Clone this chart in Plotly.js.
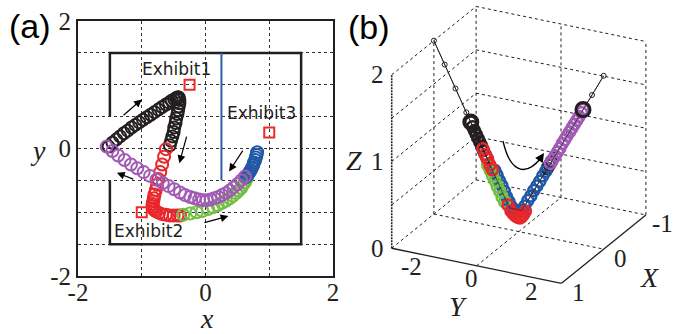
<!DOCTYPE html>
<html>
<head>
<meta charset="utf-8">
<script src="https://cdn.plot.ly/plotly-3.0.1.min.js"></script>
<style>
html,body{margin:0;padding:0;background:#fff;}
#chart{width:675px;height:334px;}
</style>
</head>
<body>
<div id="chart"></div>
<script>
// ---------- Panel (a): 2D trajectories ----------
const blackX = [-1.52,-1.46,-1.40,-1.34,-1.28,-1.22,-1.16,-1.10,-1.04,-0.98,-0.92,-0.86,-0.80,-0.74,-0.68,-0.62,-0.57,-0.53,-0.49,-0.46,-0.44,-0.43,-0.42,-0.41,-0.41,-0.42,-0.43,-0.44,-0.46,-0.47,-0.49,-0.50,-0.52,-0.54,-0.56];
const blackY = [0.03,0.09,0.14,0.19,0.24,0.28,0.33,0.37,0.41,0.45,0.49,0.53,0.57,0.61,0.65,0.69,0.72,0.75,0.77,0.79,0.80,0.80,0.80,0.76,0.71,0.66,0.60,0.54,0.47,0.40,0.33,0.26,0.19,0.12,0.05];
const redX = [-0.62,-0.65,-0.68,-0.71,-0.74,-0.76,-0.78,-0.80,-0.81,-0.82,-0.83,-0.83,-0.82,-0.80,-0.77,-0.73,-0.68,-0.62,-0.56,-0.50,-0.44,-0.40];
const redY = [-0.01,-0.13,-0.25,-0.37,-0.48,-0.57,-0.65,-0.72,-0.78,-0.83,-0.87,-0.91,-0.94,-0.97,-0.99,-1.01,-1.03,-1.04,-1.05,-1.05,-1.05,-1.05];
const greenX = [-0.35,-0.24,-0.14,-0.05,0.04,0.12,0.19,0.26,0.32,0.38,0.43,0.48,0.52,0.56,0.59,0.62,0.64,0.65];
const greenY = [-1.04,-1.02,-1.00,-0.98,-0.95,-0.92,-0.89,-0.85,-0.82,-0.78,-0.74,-0.70,-0.66,-0.62,-0.57,-0.53,-0.48,-0.44];
const blueX = [0.81,0.80,0.79,0.78,0.76,0.75,0.73,0.71,0.69,0.67,0.65,0.63];
const blueY = [-0.06,-0.10,-0.14,-0.18,-0.22,-0.26,-0.30,-0.34,-0.37,-0.40,-0.43,-0.45];
const purpleX = [0.62,0.56,0.50,0.44,0.38,0.32,0.26,0.20,0.14,0.08,0.02,-0.04,-0.10,-0.17,-0.24,-0.32,-0.40,-0.49,-0.58,-0.67,-0.77,-0.87,-0.97,-1.07,-1.17,-1.27,-1.37,-1.46,-1.55];
const purpleY = [-0.44,-0.50,-0.56,-0.61,-0.66,-0.70,-0.73,-0.76,-0.78,-0.80,-0.81,-0.81,-0.80,-0.78,-0.76,-0.73,-0.69,-0.64,-0.59,-0.54,-0.49,-0.43,-0.37,-0.31,-0.25,-0.18,-0.11,-0.04,0.03];

const wallX = [-1.5,-1.5,1.5,1.5,-1.5,-1.5];
const wallY = [0.5,1.5,1.5,-1.5,-1.5,-0.5];
const partitionX = [0.25,0.25];
const partitionY = [1.5,-0.5];
const exhibitX = [-0.25,-1,1];
const exhibitY = [1,-1,0.25];
const exhibitNames = ['Exhibit1','Exhibit2','Exhibit3'];
const exhibitLabelX = [-0.45,-0.89,0.88];
const exhibitLabelY = [1.24,-1.29,0.56];

// arrows in panel (a): [tailX, tailY, headX, headY]
const arrowsA = [
  [-1.31,0.50,-1.00,0.77],
  [-0.29,0.21,-0.41,-0.23],
  [0.60,-0.01,0.37,-0.36],
  [-0.04,-1.17,0.36,-1.06],
  [-1.11,-0.49,-1.39,-0.38]
];

const axTickVals = [-2,-1,0,1,2];
const axTickText = ['-2','','0','','2'];
const ayTickVals = [-2,-1.5,-1,-0.5,0,0.5,1,1.5,2];
const ayTickText = ['-2','','','','0','','','','2'];

// ---------- Panel (b): 3D embedding (X, Y, Z) ----------
const vlineY = [-2.83,-2.47,-2.11,-1.75,-1.39,-1.03,-0.67,-0.31,0.10,0.49,0.88,1.27,1.66,2.05,2.44,2.83];
const vlineZ = [2.00,1.75,1.50,1.25,1.00,0.75,0.50,0.25,0.25,0.50,0.75,1.00,1.25,1.50,1.75,2.00];
const vlineX = [0,0,0,0,0,0,0,0,0,0,0,0,0,0,0,0];

const b3BlackY = [-1.60,-1.54,-1.48,-1.42,-1.36,-1.30,-1.24,-1.18,-1.12,-1.06,0.95,1.02,1.09];
const b3BlackZ = [1.15,1.10,1.06,1.02,0.98,0.94,0.90,0.85,0.81,0.77,0.80,0.84,0.89];
const b3BlackX = [0,0,0,0,0,0,0,0,0,0,0,0,0];
const b3RedY = [-1.20,-1.12,-1.04,-0.96,-0.88,-0.36,-0.26,-0.18,-0.10,-0.02,0.04,0.10,0.16,0.22];
const b3RedZ = [0.87,0.81,0.76,0.70,0.65,0.28,0.22,0.19,0.17,0.16,0.16,0.18,0.21,0.25];
const b3RedX = [0,0,0,0,0,0,0,0,0,0,0,0,0,0];
const b3GreenY = [-0.98,-0.90,-0.82,-0.74,-0.66,-0.58,-0.50,-0.42];
const b3GreenZ = [0.71,0.66,0.60,0.55,0.49,0.44,0.38,0.33];
const b3GreenX = [0.04,0.04,0.04,0.04,0.04,0.04,0.04,0.04];
const b3BlueY = [-0.86,-0.78,-0.70,-0.62,-0.54,-0.46,-0.38,-0.30,-0.20,-0.10,0.00,0.10,0.20,0.30,0.40,0.50,0.60,0.70,0.80,0.90];
const b3BlueZ = [0.63,0.58,0.52,0.47,0.41,0.35,0.30,0.25,0.24,0.24,0.24,0.25,0.31,0.38,0.44,0.51,0.57,0.63,0.70,0.76];
const b3BlueX = [-0.04,-0.04,-0.04,-0.04,-0.04,-0.04,-0.04,-0.04,0,0,0,0,0,0,0,0,0,0,0,0];
const b3PurpleY = [1.05,1.13,1.21,1.29,1.37,1.45,1.53,1.61,1.69,1.77,1.85,1.93,2.01,2.09,2.14];
const b3PurpleZ = [0.86,0.91,0.96,1.01,1.06,1.12,1.17,1.22,1.27,1.32,1.37,1.42,1.47,1.52,1.56];
const b3PurpleX = [0,0,0,0,0,0,0,0,0,0,0,0,0,0,0];

const limX = [-1,1], limY = [-2.83,2.83], limZ = [0,2];
const bXTicks = [-1,0,1], bXTickText = ['-1','0','1'];
const bYTicks = [-2,0,2], bYTickText = ['-2','0','2'];
const bZTicks = [0,1,2], bZTickText = ['0','1','2'];
const bZGrid = [0.5,1,1.5];

// orthographic view (MATLAB-like camera): screen offset per unit of X, Y, Z
const view = {u:[-42.2,30.0,0.0], v:[-34.2,-6.2,86.7]};
function proj(X,Y,Z){return [view.u[0]*X+view.u[1]*Y+view.u[2]*Z, view.v[0]*X+view.v[1]*Y+view.v[2]*Z];}
function projArrays(X,Y,Z){const u=[],v=[];for(let i=0;i<X.length;i++){const p=proj(X[i],Y[i],Z[i]);u.push(p[0]);v.push(p[1]);}return {u:u,v:v};}
function segTrace(segs,style){const u=[],v=[];segs.forEach(s=>{const a=proj(...s[0]),b=proj(...s[1]);u.push(a[0],b[0],null);v.push(a[1],b[1],null);});return Object.assign({x:u,y:v,mode:'lines',xaxis:'x2',yaxis:'y2',hoverinfo:'skip'},style);}

const colBlack = '#231f20', colRed = '#e8262b', colGreen = '#72bf44', colBlue = '#2158a6', colPurple = '#a05cb4';

const traces = [];
traces.push({x: wallX, y: wallY, mode:'lines', line:{color:'#231f20', width:2.5}, xaxis:'x', yaxis:'y', hoverinfo:'skip'});
traces.push({x: partitionX, y: partitionY, mode:'lines', line:{color:'#2a5ea8', width:2}, xaxis:'x', yaxis:'y'});
function traj(x,y,c,sz,w){return {x:x,y:y,mode:'markers',marker:{symbol:'circle-open',size:sz,color:c,line:{color:c,width:w}},xaxis:'x',yaxis:'y'};}
traces.push(traj(blackX,blackY,colBlack,12,2));
traces.push(traj(redX,redY,colRed,12,2));
traces.push(traj(greenX,greenY,colGreen,12,2));
traces.push(traj(blueX,blueY,colBlue,12,2));
traces.push(traj(purpleX,purpleY,colPurple,12,2));
traces.push({x: exhibitX, y: exhibitY, mode:'markers', marker:{symbol:'square-open', size:10, color:'#ee2a24', line:{color:'#ee2a24',width:2}}, xaxis:'x', yaxis:'y'});

// panel (b) box and grid
const [x0,x1] = limX, [y0,y1] = limY, [z0,z1] = limZ;
const dashedSegs = [
  [[x0,y0,z0],[x0,y0,z1]], [[x0,y1,z0],[x0,y1,z1]],
  [[x1,y0,z1],[x0,y0,z1]], [[x0,y0,z1],[x0,y1,z1]],
  [[x1,y0,z0],[x0,y0,z0]], [[x0,y0,z0],[x0,y1,z0]]
];
bZGrid.forEach(z=>{dashedSegs.push([[x1,y0,z],[x0,y0,z]]); dashedSegs.push([[x0,y0,z],[x0,y1,z]]);});
dashedSegs.push([[0,y0,z0],[0,y0,z1]]);
dashedSegs.push([[x0,0,z0],[x0,0,z1]]);
dashedSegs.push([[x1,0,z0],[x0,0,z0]]);
dashedSegs.push([[0,y0,z0],[0,y1,z0]]);
traces.push(segTrace(dashedSegs,{line:{color:'#231f20',width:1,dash:'3px,3px'}}));
traces.push(segTrace([[[x1,y0,z0],[x1,y1,z0]],[[x1,y1,z0],[x0,y1,z0]]],{line:{color:'#231f20',width:1.3}}));
traces.push(segTrace([[[x1,y0,z0],[x1,y0,z1]]],{line:{color:'#231f20',width:1.6,dash:'2px,1px'}}));

function t3(X,Y,Z,c,sz,w){const p=projArrays(X,Y,Z);return {x:p.u,y:p.v,mode:'markers',marker:{symbol:'circle-open',size:sz,color:c,line:{color:c,width:w}},xaxis:'x2',yaxis:'y2',hoverinfo:'skip'};}
const vl = projArrays(vlineX,vlineY,vlineZ);
traces.push({x:vl.u, y:vl.v, mode:'lines+markers', line:{color:'#231f20', width:1}, marker:{symbol:'circle-open', size:5, color:'#231f20', line:{width:1}}, xaxis:'x2', yaxis:'y2'});
traces.push(t3(b3BlackX,b3BlackY,b3BlackZ,colBlack,11,2.5));
traces.push(t3(b3BlueX,b3BlueY,b3BlueZ,colBlue,11,2.5));
traces.push(t3(b3GreenX,b3GreenY,b3GreenZ,colGreen,11,2.5));
traces.push(t3(b3RedX,b3RedY,b3RedZ,colRed,11,2.5));
traces.push(t3(b3PurpleX,b3PurpleY,b3PurpleZ,colPurple,11,2.5));
// first black and last purple samples drawn larger, as in the original
const nP = b3PurpleX.length - 1;
traces.push(t3([b3BlackX[0]],[b3BlackY[0]],[b3BlackZ[0]],colBlack,14,3));
traces.push(t3([b3PurpleX[nP]],[b3PurpleY[nP]],[b3PurpleZ[nP]],colBlack,14,3));
traces.push({x:vl.u, y:vl.v, mode:'lines', line:{color:'#231f20', width:1}, xaxis:'x2', yaxis:'y2', opacity:0.6});

const annotations = [];
exhibitNames.forEach((n,i)=>annotations.push({x:exhibitLabelX[i], y:exhibitLabelY[i], xref:'x', yref:'y', text:n, showarrow:false, font:{family:'DejaVu Sans', size:17, color:'#231f20'}}));
arrowsA.forEach(a=>annotations.push({x:a[2], y:a[3], ax:a[0], ay:a[1], xref:'x', yref:'y', axref:'x', ayref:'y', text:'', showarrow:true, arrowhead:2, arrowsize:1.3, arrowwidth:1.2, arrowcolor:'#000'}));
annotations.push({x:30/675, y:1-26/334, xref:'paper', yref:'paper', xanchor:'center', yanchor:'middle', text:'(a)', showarrow:false, font:{family:'Liberation Sans', size:34, color:'#000'}});
annotations.push({x:369/675, y:1-27/334, xref:'paper', yref:'paper', xanchor:'center', yanchor:'middle', text:'(b)', showarrow:false, font:{family:'Liberation Sans', size:34, color:'#000'}});
annotations.push({x:38/675, y:1-150/334, xref:'paper', yref:'paper', xanchor:'center', yanchor:'middle', text:'<i>y</i>', showarrow:false, font:{family:'Liberation Serif', size:28, color:'#231f20'}});
annotations.push({x:207/675, y:1-318/334, xref:'paper', yref:'paper', xanchor:'center', yanchor:'middle', text:'<i>x</i>', showarrow:false, font:{family:'Liberation Serif', size:28, color:'#231f20'}});
// curved arrow head in (b)
annotations.push({x:544/675, y:1-153/334, xref:'paper', yref:'paper', ax:-6, ay:9, text:'', showarrow:true, arrowhead:2, arrowsize:1.4, arrowwidth:1.3, arrowcolor:'#000'});

// panel (b) tick labels and axis titles at projected positions
const tfB = {family:'Liberation Serif', size:25, color:'#231f20'};
function lab(p,du,dv,t,f){annotations.push({x:p[0]+du, y:p[1]+dv, xref:'x2', yref:'y2', xanchor:'center', yanchor:'middle', text:t, showarrow:false, font:f});}
bZTicks.forEach((z,i)=>lab(proj(x1,y0,z),-14,0,bZTickText[i],tfB));
bYTicks.forEach((y,i)=>lab(proj(x1,y,z0),-5,-13,bYTickText[i],tfB));
bXTicks.forEach((x,i)=>lab(proj(x,y1,z0),17,-9,bXTickText[i],tfB));
const ttB = {family:'Liberation Serif', size:28, color:'#231f20'};
lab(proj(x1,y0,1),-38,1,'<i>Z</i>',ttB);
lab(proj(x1,0,z0),-18,-41,'<i>Y</i>',ttB);
lab(proj(0,y1,z0),46,-28,'<i>X</i>',ttB);

const tickFont = {family:'Liberation Serif', size:25, color:'#231f20'};
const layout = {
  width:675, height:334,
  margin:{l:0,r:0,t:0,b:0},
  paper_bgcolor:'#fff', plot_bgcolor:'rgba(0,0,0,0)',
  showlegend:false,
  xaxis:{domain:[78/675,333/675], range:[-2,2], tickvals:axTickVals, ticktext:axTickText, showgrid:true, gridcolor:'#333', griddash:'3px,3px', gridwidth:1, zeroline:false, showline:true, mirror:true, linecolor:'#231f20', linewidth:2, ticks:'', tickfont:tickFont, ticklabelstandoff:-7, anchor:'y', fixedrange:true},
  yaxis:{domain:[1-276/334,1-21/334], range:[-2,2], tickvals:ayTickVals, ticktext:ayTickText, showgrid:true, gridcolor:'#333', griddash:'3px,3px', gridwidth:1, zeroline:false, showline:true, mirror:true, linecolor:'#231f20', linewidth:2, ticks:'', tickfont:tickFont, ticklabelstandoff:0, anchor:'x', fixedrange:true},
  xaxis2:{domain:[0.5,1], range:[337.5-518.8, 675-518.8], visible:false, anchor:'y2', fixedrange:true},
  yaxis2:{domain:[0,1], range:[-102.4, 231.6], visible:false, anchor:'x2', fixedrange:true},
  shapes:[
    {type:'path', xref:'paper', yref:'paper', path:'M '+(503/675)+' '+(1-141/334)+' C '+(509/675)+' '+(1-168/334)+' '+(523/675)+' '+(1-180/334)+' '+(541/675)+' '+(1-158/334), line:{color:'#000', width:1.3}}
  ],
  annotations: annotations
};
Plotly.newPlot('chart', traces, layout, {staticPlot:true, displayModeBar:false});
</script>
</body>
</html>
